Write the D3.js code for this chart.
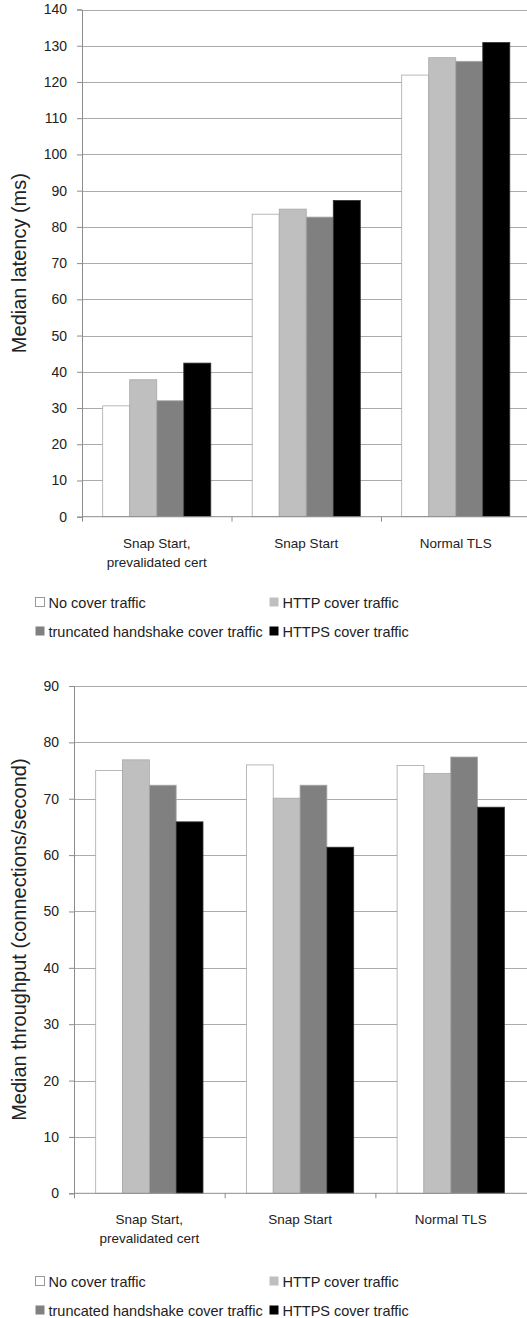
<!DOCTYPE html>
<html>
<head>
<meta charset="utf-8">
<script src="https://cdn.jsdelivr.net/npm/d3@7"></script>
<style>
body { margin: 0; background: #fff; }
text { font-family: "Liberation Sans", Arial, sans-serif; fill: #222; }
</style>
</head>
<body>
<div id="chart-area"></div>
<script>
// Snap Start latency / throughput, two grouped bar charts

var width = 527;
var height = 1318;

var categories = [["Snap Start,", "prevalidated cert"], ["Snap Start"], ["Normal TLS"]];
var seriesNames = ["No cover traffic", "HTTP cover traffic", "truncated handshake cover traffic", "HTTPS cover traffic"];
var seriesColors = ["#ffffff", "#bfbfbf", "#808080", "#000000"];

var latencyValues = [
    [30.6, 83.5, 121.9],
    [37.8, 84.9, 126.7],
    [32.0, 82.7, 125.7],
    [42.4, 87.3, 130.9]
];
var latencyTicks = [0, 10, 20, 30, 40, 50, 60, 70, 80, 90, 100, 110, 120, 130, 140];

var throughputValues = [
    [75.0, 76.0, 75.9],
    [76.9, 70.1, 74.5],
    [72.4, 72.4, 77.4],
    [65.9, 61.4, 68.5]
];
var throughputTicks = [0, 10, 20, 30, 40, 50, 60, 70, 80, 90];

var svg = d3.select("#chart-area")
    .append("svg")
    .attr("width", width)
    .attr("height", height);

function drawChart(opts) {
    var g = svg.append("g");
    var catKeys = categories.map(function(c, i) { return i; });

    var x = d3.scaleBand()
        .domain(catKeys)
        .range([opts.left, opts.left + opts.catWidth * 3]);

    var xs = d3.scaleBand()
        .domain(seriesNames)
        .range([opts.groupPad, opts.catWidth - opts.groupPad]);

    var y = d3.scaleLinear()
        .domain([0, opts.max])
        .range([opts.bottom, opts.top]);

    // gridlines
    g.append("g")
        .selectAll("line")
        .data(opts.ticks.filter(function(t) { return t > 0; }))
        .enter()
        .append("line")
        .attr("x1", opts.left)
        .attr("x2", width)
        .attr("y1", function(d) { return Math.round(y(d)) + 0.5; })
        .attr("y2", function(d) { return Math.round(y(d)) + 0.5; })
        .attr("stroke", "#ababab")
        .attr("stroke-width", 1);

    // bars
    seriesNames.forEach(function(s, si) {
        g.append("g")
            .selectAll("rect")
            .data(opts.values[si])
            .enter()
            .append("rect")
            .attr("x", function(d, i) { return x(i) + xs(s); })
            .attr("y", function(d) { return y(d); })
            .attr("width", xs.bandwidth())
            .attr("height", function(d) { return opts.bottom - y(d); })
            .attr("fill", seriesColors[si])
            .attr("stroke", si === 3 ? "#333" : "#a8a8a8")
            .attr("stroke-width", 0.8);
    });

    // y axis
    var yAxis = d3.axisLeft(y)
        .tickValues(opts.ticks)
        .tickSize(5)
        .tickPadding(10);
    var ya = g.append("g")
        .attr("transform", "translate(" + opts.left + ",0)")
        .call(yAxis);
    ya.selectAll("path, line").attr("stroke", "#8c8c8c");
    ya.selectAll("text")
        .style("font-size", "14px")
        .style("font-family", "'Liberation Sans', Arial, sans-serif")
        .attr("fill", "#222");

    // x axis with ticks between categories
    var xa = g.append("g")
        .attr("transform", "translate(0," + opts.bottom + ")");
    xa.append("line")
        .attr("x1", opts.left)
        .attr("x2", width)
        .attr("stroke", "#8c8c8c");
    xa.selectAll(".cat-tick")
        .data(catKeys)
        .enter()
        .append("line")
        .attr("x1", function(d) { return x(d) + 0.5; })
        .attr("x2", function(d) { return x(d) + 0.5; })
        .attr("y1", 0)
        .attr("y2", 5)
        .attr("stroke", "#8c8c8c");

    xa.selectAll(".cat-label")
        .data(categories)
        .enter()
        .append("text")
        .attr("text-anchor", "middle")
        .style("font-size", "13.5px")
        .attr("x", function(d, i) { return x(i) + x.bandwidth() / 2; })
        .attr("y", 31)
        .selectAll("tspan")
        .data(function(d) { return d; })
        .enter()
        .append("tspan")
        .attr("x", function() { return d3.select(this.parentNode).attr("x"); })
        .attr("dy", function(d, i) { return i === 0 ? 0 : 19; })
        .text(function(d) { return d; });

    // y title
    g.append("text")
        .attr("transform", "translate(" + opts.titleX + "," + ((opts.top + opts.bottom) / 2) + ") rotate(-90)")
        .attr("text-anchor", "middle")
        .style("font-size", opts.titleSize + "px")
        .text(opts.title);

    // legend
    var legend = g.append("g")
        .selectAll("g")
        .data(seriesNames)
        .enter()
        .append("g")
        .attr("transform", function(d, i) {
            var lx = i % 2 === 0 ? 35 : 269;
            var ly = opts.legendY + Math.floor(i / 2) * 29;
            return "translate(" + lx + "," + ly + ")";
        });
    legend.append("rect")
        .attr("x", 0.5)
        .attr("y", -5.5)
        .attr("width", 9)
        .attr("height", 9)
        .attr("fill", function(d, i) { return seriesColors[i]; })
        .attr("stroke", function(d, i) { return i === 0 ? "#999" : "none"; });
    legend.append("text")
        .attr("x", 13.5)
        .attr("y", 5)
        .style("font-size", "14.5px")
        .text(function(d) { return d; });
}

drawChart({
    left: 82, catWidth: 149.5, groupPad: 20.7,
    top: 9.5, bottom: 516.7, max: 140, ticks: latencyTicks,
    values: latencyValues,
    title: "Median latency (ms)", titleX: 26, titleSize: 20,
    legendY: 603
});

drawChart({
    left: 74, catWidth: 150.7, groupPad: 21.7,
    top: 686, bottom: 1193.3, max: 90, ticks: throughputTicks,
    values: throughputValues,
    title: "Median throughput (connections/second)", titleX: 26, titleSize: 20,
    legendY: 1282
});
</script>
</body>
</html>
